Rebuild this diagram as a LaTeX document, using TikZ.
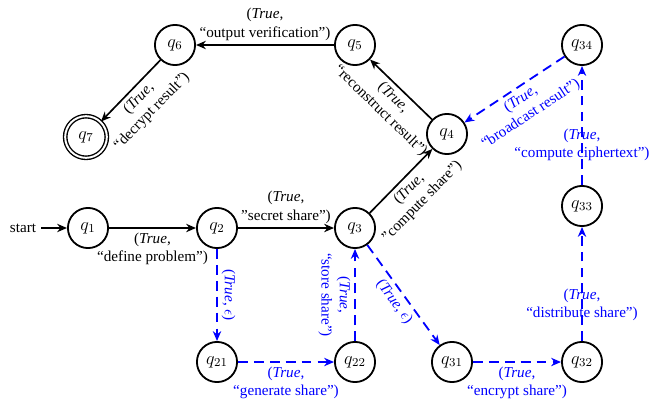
\documentclass[tikz,border=0pt]{standalone}
\usepackage{fontspec}
\setmainfont{Liberation Serif}
\usetikzlibrary{automata,arrows.meta}
\begin{document}
\begin{tikzpicture}[x=0.66pt,y=-0.66pt,
  every state/.style={draw, line width=1.2pt, minimum size=26.5pt, inner sep=0pt, font=\large},
  accepting/.style={double, double distance=1.3pt, line width=0.9pt, minimum size=27.5pt},
  >={Stealth[length=6.5pt,width=5.5pt]},
  main/.style={->, line width=1.1pt, black},
  aux/.style={->, line width=1.2pt, blue, dash pattern=on 6.5pt off 4pt},
  lab/.style={align=center, inner sep=2.5pt, text=black},
  blab/.style={align=center, inner sep=2.5pt, text=blue}]
\useasboundingbox (0,0) rectangle (652,405);
% states
\node[state] (q1) at (88,228) {$q_1$};
\node[state] (q2) at (217,228) {$q_2$};
\node[state] (q3) at (355,228) {$q_3$};
\node[state] (q4) at (447,134) {$q_4$};
\node[state] (q5) at (355,45) {$q_5$};
\node[state] (q6) at (175,45) {$q_6$};
\node[state,accepting] (q7) at (86,137) {$q_7$};
\node[state] (q21) at (217,362) {$q_{21}$};
\node[state] (q22) at (355,362) {$q_{22}$};
\node[state] (q31) at (452,362) {$q_{31}$};
\node[state] (q32) at (582,362) {$q_{32}$};
\node[state] (q33) at (582,206) {$q_{33}$};
\node[state] (q34) at (582,45) {$q_{34}$};
\node (start) at (23,228) {start};
% main path
\draw[main] (start) -- (q1);
\path (q1) edge[main] node[lab, below] {(\textit{True},\\“define problem”)} (q2);
\path (q2) edge[main] node[lab, above] {(\textit{True},\\”secret share”)} (q3);
\path (q3) edge[main] node[lab, sloped, below] {(\textit{True},\\”compute share”)} (q4);
\path (q4) edge[main] node[lab, sloped, below] {(\textit{True},\\“reconstruct result”)} (q5);
\path (q5) edge[main] node[lab, above] {(\textit{True},\\“output verification”)} (q6);
\path (q6) edge[main] node[lab, sloped, below] {(\textit{True},\\“decrypt result”)} (q7);
% auxiliary paths
\path (q2) edge[aux] node[blab, midway, rotate=-90, anchor=south] {(\textit{True}, $\epsilon$)} (q21);
\path (q21) edge[aux] node[blab, below] {(\textit{True},\\“generate share”)} (q22);
\path (q22) edge[aux] node[blab, midway, rotate=-90, anchor=north] {(\textit{True},\\“store share”)} (q3);
\path (q3) edge[aux] node[blab, sloped, below] {(\textit{True}, $\epsilon$)} (q31);
\path (q31) edge[aux] node[blab, below] {(\textit{True},\\“encrypt share”)} (q32);
\path (q32) edge[aux] node[blab, pos=0.32] {(\textit{True},\\“distribute share”)} (q33);
\path (q33) edge[aux] node[blab, pos=0.34] {(\textit{True},\\“compute ciphertext”)} (q34);
\path (q34) edge[aux] node[blab, sloped, below] {(\textit{True},\\“broadcast result”)} (q4);
\end{tikzpicture}
\end{document}
